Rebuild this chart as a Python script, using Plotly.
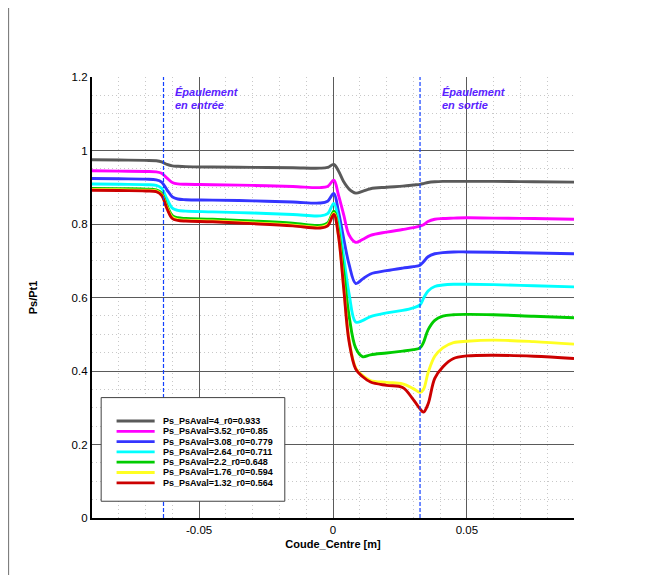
import plotly.graph_objects as go

# ---------------- data ----------------
x_m = [-0.090, -0.080, -0.070, -0.066, -0.064, -0.062, -0.060, -0.058, -0.055,
       -0.045, -0.030, -0.015, -0.005, -0.002, 0.0003, 0.002, 0.004, 0.006,
       0.0085, 0.011, 0.014, 0.020, 0.026, 0.030, 0.0325, 0.0338, 0.0355,
       0.038, 0.041, 0.045, 0.050, 0.060, 0.075, 0.090]

ps_4_00 = [0.975, 0.974, 0.973, 0.972, 0.969, 0.962, 0.958, 0.957, 0.956,
           0.955, 0.954, 0.953, 0.952, 0.954, 0.962, 0.945, 0.915, 0.895,
           0.884, 0.889, 0.896, 0.900, 0.903, 0.906, 0.908, 0.910, 0.913,
           0.915, 0.916, 0.916, 0.916, 0.916, 0.915, 0.914]

ps_3_52 = [0.945, 0.944, 0.943, 0.942, 0.938, 0.925, 0.913, 0.909, 0.908,
           0.907, 0.905, 0.902, 0.899, 0.902, 0.919, 0.880, 0.825, 0.770,
           0.750, 0.758, 0.769, 0.778, 0.785, 0.790, 0.794, 0.798, 0.807,
           0.813, 0.815, 0.816, 0.817, 0.816, 0.815, 0.813]

ps_3_08 = [0.924, 0.923, 0.922, 0.920, 0.914, 0.893, 0.874, 0.868, 0.866,
           0.865, 0.863, 0.860, 0.857, 0.862, 0.883, 0.835, 0.760, 0.690,
           0.638, 0.650, 0.664, 0.673, 0.680, 0.684, 0.688, 0.697, 0.711,
           0.719, 0.722, 0.724, 0.724, 0.723, 0.721, 0.719]

ps_2_64 = [0.909, 0.908, 0.907, 0.905, 0.897, 0.868, 0.843, 0.837, 0.835,
           0.833, 0.830, 0.826, 0.822, 0.828, 0.856, 0.812, 0.710, 0.610,
           0.533, 0.537, 0.548, 0.558, 0.565, 0.572, 0.580, 0.598, 0.618,
           0.630, 0.634, 0.636, 0.636, 0.635, 0.632, 0.629]

ps_2_20 = [0.897, 0.896, 0.895, 0.893, 0.884, 0.850, 0.823, 0.817, 0.815,
           0.813, 0.808, 0.802, 0.796, 0.803, 0.835, 0.785, 0.670, 0.550,
           0.462, 0.439, 0.444, 0.449, 0.454, 0.458, 0.463, 0.478, 0.512,
           0.538, 0.549, 0.553, 0.554, 0.553, 0.549, 0.545]

ps_1_76 = [0.894, 0.893, 0.892, 0.890, 0.880, 0.845, 0.818, 0.812, 0.810,
           0.808, 0.803, 0.797, 0.791, 0.798, 0.829, 0.773, 0.630, 0.485,
           0.408, 0.388, 0.374, 0.369, 0.365, 0.352, 0.342, 0.350, 0.395,
           0.440, 0.463, 0.477, 0.481, 0.484, 0.480, 0.473]

ps_1_32 = [0.892, 0.891, 0.890, 0.888, 0.878, 0.842, 0.815, 0.810, 0.808,
           0.806, 0.801, 0.795, 0.789, 0.795, 0.826, 0.770, 0.625, 0.480,
           0.405, 0.385, 0.370, 0.361, 0.355, 0.322, 0.297, 0.288, 0.310,
           0.380, 0.411, 0.434, 0.441, 0.443, 0.440, 0.434]

series_names = ["Ps_PsAval=4_r0=0.933", "Ps_PsAval=3.52_r0=0.85",
                "Ps_PsAval=3.08_r0=0.779", "Ps_PsAval=2.64_r0=0.711",
                "Ps_PsAval=2.2_r0=0.648", "Ps_PsAval=1.76_r0=0.594",
                "Ps_PsAval=1.32_r0=0.564"]
series_values = [ps_4_00, ps_3_52, ps_3_08, ps_2_64, ps_2_20, ps_1_76, ps_1_32]

shoulder_x = [-0.0633, 0.0325]
shoulder_labels = [["Épaulement", "en entrée"], ["Épaulement", "en sortie"]]

x_tick_vals = [-0.05, 0, 0.05]
x_tick_text = ["-0.05", "0", "0.05"]

# ---------------- styles ----------------
colors = ["#5a5a5a", "#ff00ff", "#3535ff", "#00ffff", "#00cc00", "#ffff22", "#cc0000"]
FONT = "Liberation Sans, Arial, sans-serif"

fig = go.Figure()
for name, vals, col in zip(series_names, series_values, colors):
    fig.add_trace(go.Scatter(
        x=x_m, y=vals, name=name, mode="lines",
        line=dict(color=col, width=2.9, shape="spline", smoothing=1.0),
        showlegend=False, hoverinfo="x+y+name"))

# shoulder markers
label_shift = [9, 20]
for sx, lab, sh in zip(shoulder_x, shoulder_labels, label_shift):
    fig.add_vline(x=sx, line=dict(color="#1240ff", width=1.2, dash="4px,2px"))
    for i, txt in enumerate(lab):
        fig.add_annotation(x=sx, y=1.159 - 0.034 * i, xref="x", yref="y",
                           text="<b><i>%s</i></b>" % txt, showarrow=False,
                           xanchor="left", yanchor="middle", xshift=sh,
                           font=dict(family=FONT, size=11, color="#5a1eff"))

# manual legend box (compact, like the reference)
lg_x0, lg_x1 = 0.019, 0.400     # paper coords
lg_y0, lg_y1 = 0.038, 0.273
fig.add_shape(type="rect", xref="paper", yref="paper",
              x0=lg_x0, x1=lg_x1, y0=lg_y0, y1=lg_y1,
              line=dict(color="#404040", width=1), fillcolor="white", layer="above")
row_top = 0.220
row_step = 10.3 / 441.0
for i, (name, col) in enumerate(zip(series_names, colors)):
    yy = row_top - i * row_step
    fig.add_shape(type="line", xref="paper", yref="paper",
                  x0=0.051, x1=0.130, y0=yy, y1=yy,
                  line=dict(color=col, width=2.8), layer="above")
    fig.add_annotation(x=0.143, y=yy, xref="paper", yref="paper",
                       text="<b>%s</b>" % name, showarrow=False,
                       xanchor="left", yanchor="middle",
                       font=dict(family=FONT, size=9, color="black"))

# thin frame line on the far left of the page
fig.add_shape(type="line", xref="paper", yref="paper",
              x0=-0.173, x1=-0.173, y0=-0.2, y1=1.157,
              line=dict(color="#707070", width=1))

fig.update_xaxes(
    range=[-0.09, 0.09], tickmode="array", tickvals=x_tick_vals, ticktext=x_tick_text,
    showgrid=True, gridcolor="#5a5a5a", gridwidth=1, zeroline=False,
    showline=True, linecolor="black", linewidth=2.2, ticks="",
    minor=dict(tickmode="linear", tick0=0, dtick=0.01, showgrid=True,
               gridcolor="#c8c8c8", griddash="1px,3px", gridwidth=1),
    tickfont=dict(family=FONT, size=11.5, color="black"),
    title=dict(text="<b>Coude_Centre [m]</b>", standoff=5,
               font=dict(family=FONT, size=11, color="black")))

fig.update_yaxes(
    range=[0, 1.2], tick0=0, dtick=0.2,
    showgrid=True, gridcolor="#5a5a5a", gridwidth=1, zeroline=False,
    showline=True, linecolor="black", linewidth=2.2, ticks="",
    minor=dict(tickmode="linear", tick0=0, dtick=0.05, showgrid=True,
               gridcolor="#c8c8c8", griddash="1px,3px", gridwidth=1),
    tickfont=dict(family=FONT, size=11.5, color="black"),
    title=dict(text="<b>Ps/Pt1</b>", standoff=32,
               font=dict(family=FONT, size=11, color="black")))

fig.update_layout(
    width=651, height=575,
    margin=dict(l=84, r=85, t=69, b=65, autoexpand=False),
    plot_bgcolor="white", paper_bgcolor="white",
    font=dict(family=FONT, color="black"),
    showlegend=False)

fig.write_html("out.html")
